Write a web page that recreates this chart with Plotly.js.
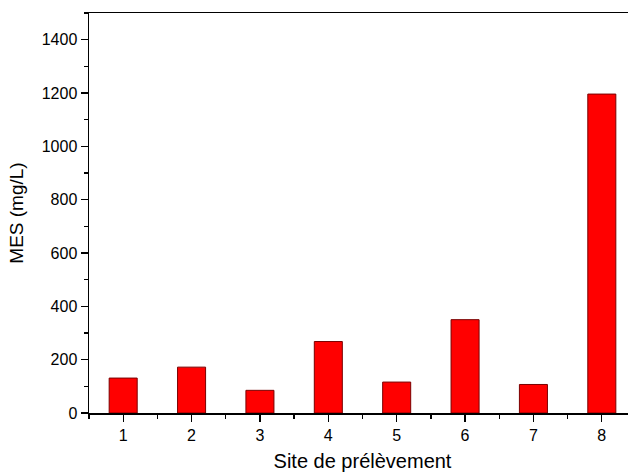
<!DOCTYPE html>
<html>
<head>
<meta charset="utf-8">
<script src="https://cdn.plot.ly/plotly-3.0.1.min.js"></script>
<style>
html,body{margin:0;padding:0;overflow:hidden;background:#fff;width:628px;height:474px;}
#chart{width:640px;height:474px;}
</style>
</head>
<body>
<div id="chart"></div>
<script>
const sites = [1, 2, 3, 4, 5, 6, 7, 8];
const mesValues = [131, 172, 85, 268, 116, 350, 107, 1196];
const xTickLabels = ['1', '2', '3', '4', '5', '6', '7', '8'];
const yTickValues = [0, 200, 400, 600, 800, 1000, 1200, 1400];

const trace = {
  type: 'bar',
  x: sites,
  y: mesValues,
  width: 0.41,
  marker: { color: '#ff0000', line: { color: '#7a0000', width: 1 } },
  hoverinfo: 'x+y'
};

const layout = {
  width: 640,
  height: 474,
  margin: { l: 89, r: 4, t: 13, b: 61 },
  paper_bgcolor: '#ffffff',
  plot_bgcolor: '#ffffff',
  font: { family: 'Liberation Sans, Arial, sans-serif', color: '#000', size: 16 },
  showlegend: false,
  xaxis: {
    range: [0.5, 8.5],
    tickvals: sites,
    ticktext: xTickLabels,
    ticks: 'outside',
    ticklen: 7,
    tickwidth: 1.3,
    tickcolor: '#000',
    minor: { dtick: 0.5, tick0: 0.5, ticks: 'outside', ticklen: 4, tickwidth: 1.3, tickcolor: '#000', showgrid: false },
    showline: true,
    linecolor: '#000',
    linewidth: 1.5,
    mirror: true,
    showgrid: false,
    zeroline: false,
    tickfont: { size: 16 },
    title: { text: 'Site de prélèvement', font: { size: 20 }, standoff: 11 }
  },
  yaxis: {
    range: [0, 1500],
    tickvals: yTickValues,
    ticks: 'outside',
    ticklen: 7,
    tickwidth: 1.3,
    tickcolor: '#000',
    minor: { dtick: 100, tick0: 0, ticks: 'outside', ticklen: 4, tickwidth: 1.3, tickcolor: '#000', showgrid: false },
    showline: true,
    linecolor: '#000',
    linewidth: 1.5,
    showgrid: false,
    zeroline: false,
    tickfont: { size: 16 },
    title: { text: 'MES (mg/L)', font: { size: 19 }, standoff: 13 }
  }
};

Plotly.newPlot('chart', [trace], layout, { displayModeBar: false, staticPlot: true });
</script>
</body>
</html>
